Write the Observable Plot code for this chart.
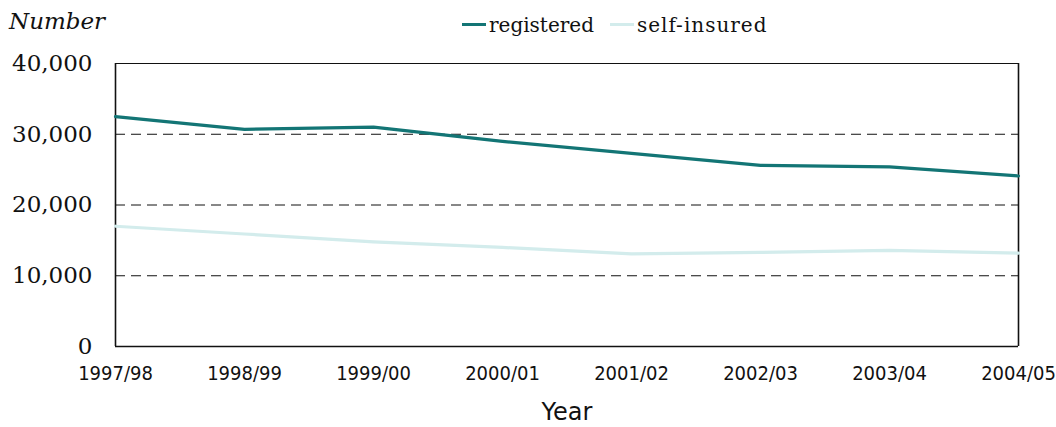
<!DOCTYPE html>
<html>
<head>
<meta charset="utf-8">
<script src="https://cdn.jsdelivr.net/npm/d3@7"></script>
<script src="https://cdn.jsdelivr.net/npm/@observablehq/plot@0.6"></script>
<style>
  html, body { margin: 0; padding: 0; background: #fff; }
  #wrap { position: relative; width: 1056px; height: 427px; overflow: hidden; }
  #wrap svg { position: absolute; left: 0; top: 0; }
  .lbl { position: absolute; font-family: "DejaVu Serif", serif; color: #111; white-space: nowrap; line-height: 1; }
  .sw { display: inline-block; width: 24px; height: 3px; vertical-align: middle; margin-right: 3px; position: relative; top: -2px; }
</style>
</head>
<body>
<div id="wrap"></div>
<script>
const years = ["1997/98","1998/99","1999/00","2000/01","2001/02","2002/03","2003/04","2004/05"];
const registered = [32500, 30700, 31000, 29000, 27300, 25600, 25400, 24100];
const selfInsured = [17000, 15900, 14800, 14000, 13100, 13300, 13600, 13200];
const yTicks = [0, 10000, 20000, 30000, 40000];
const gridTicks = [10000, 20000, 30000];
const seriesNames = ["registered", "self-insured"];
const seriesColors = ["#137575", "#d3ecec"];

const data = [];
years.forEach((y, i) => {
  data.push({year: y, series: seriesNames[0], value: registered[i]});
  data.push({year: y, series: seriesNames[1], value: selfInsured[i]});
});

const chart = Plot.plot({
  width: 1056,
  height: 427,
  marginLeft: 115,
  marginRight: 38,
  marginTop: 63,
  marginBottom: 81,
  style: {fontFamily: "DejaVu Serif", color: "#111", background: "transparent"},
  x: {type: "point", domain: years, padding: 0},
  y: {domain: [0, 40000]},
  color: {domain: seriesNames, range: seriesColors},
  marks: [
    Plot.ruleY(gridTicks, {stroke: "#111", strokeWidth: 1, strokeDasharray: "10,6"}),
    Plot.ruleY([40000], {stroke: "#111", strokeWidth: 1.2}),
    Plot.ruleY([0], {stroke: "#111", strokeWidth: 1.6}),
    Plot.ruleX([years[0], years[years.length - 1]], {stroke: "#111", strokeWidth: 1.6}),
    Plot.line(data, {x: "year", y: "value", z: "series", stroke: "series", strokeWidth: 3.2}),
    Plot.axisY({ticks: yTicks, tickFormat: d3.format(","), tickSize: 0, tickPadding: 23, fontSize: 23, label: null, fontFamily: "DejaVu Serif"}),
    Plot.axisX({tickSize: 0, tickPadding: 19, fontSize: 20, label: null, fontFamily: "DejaVu Sans Condensed, DejaVu Sans"})
  ]
});
const wrap = document.getElementById("wrap");
wrap.appendChild(chart);

function addLabel(html, css) {
  const d = document.createElement("div");
  d.className = "lbl";
  d.innerHTML = html;
  Object.assign(d.style, css);
  wrap.appendChild(d);
  return d;
}
addLabel("Number", {left: "9px", top: "10px", fontSize: "23px", fontStyle: "italic"});
addLabel("Year", {left: "0", width: "1134px", textAlign: "center", top: "400px", fontSize: "24px", fontFamily: "DejaVu Sans, sans-serif"});
addLabel(
  seriesNames.map((n, i) => `<span style="margin-right:16px;${i === 1 ? "letter-spacing:1px" : ""}"><span class="sw" style="background:${seriesColors[i]}"></span>${n}</span>`).join(""),
  {left: "462px", top: "15px", fontSize: "20px"}
);
</script>
</body>
</html>
